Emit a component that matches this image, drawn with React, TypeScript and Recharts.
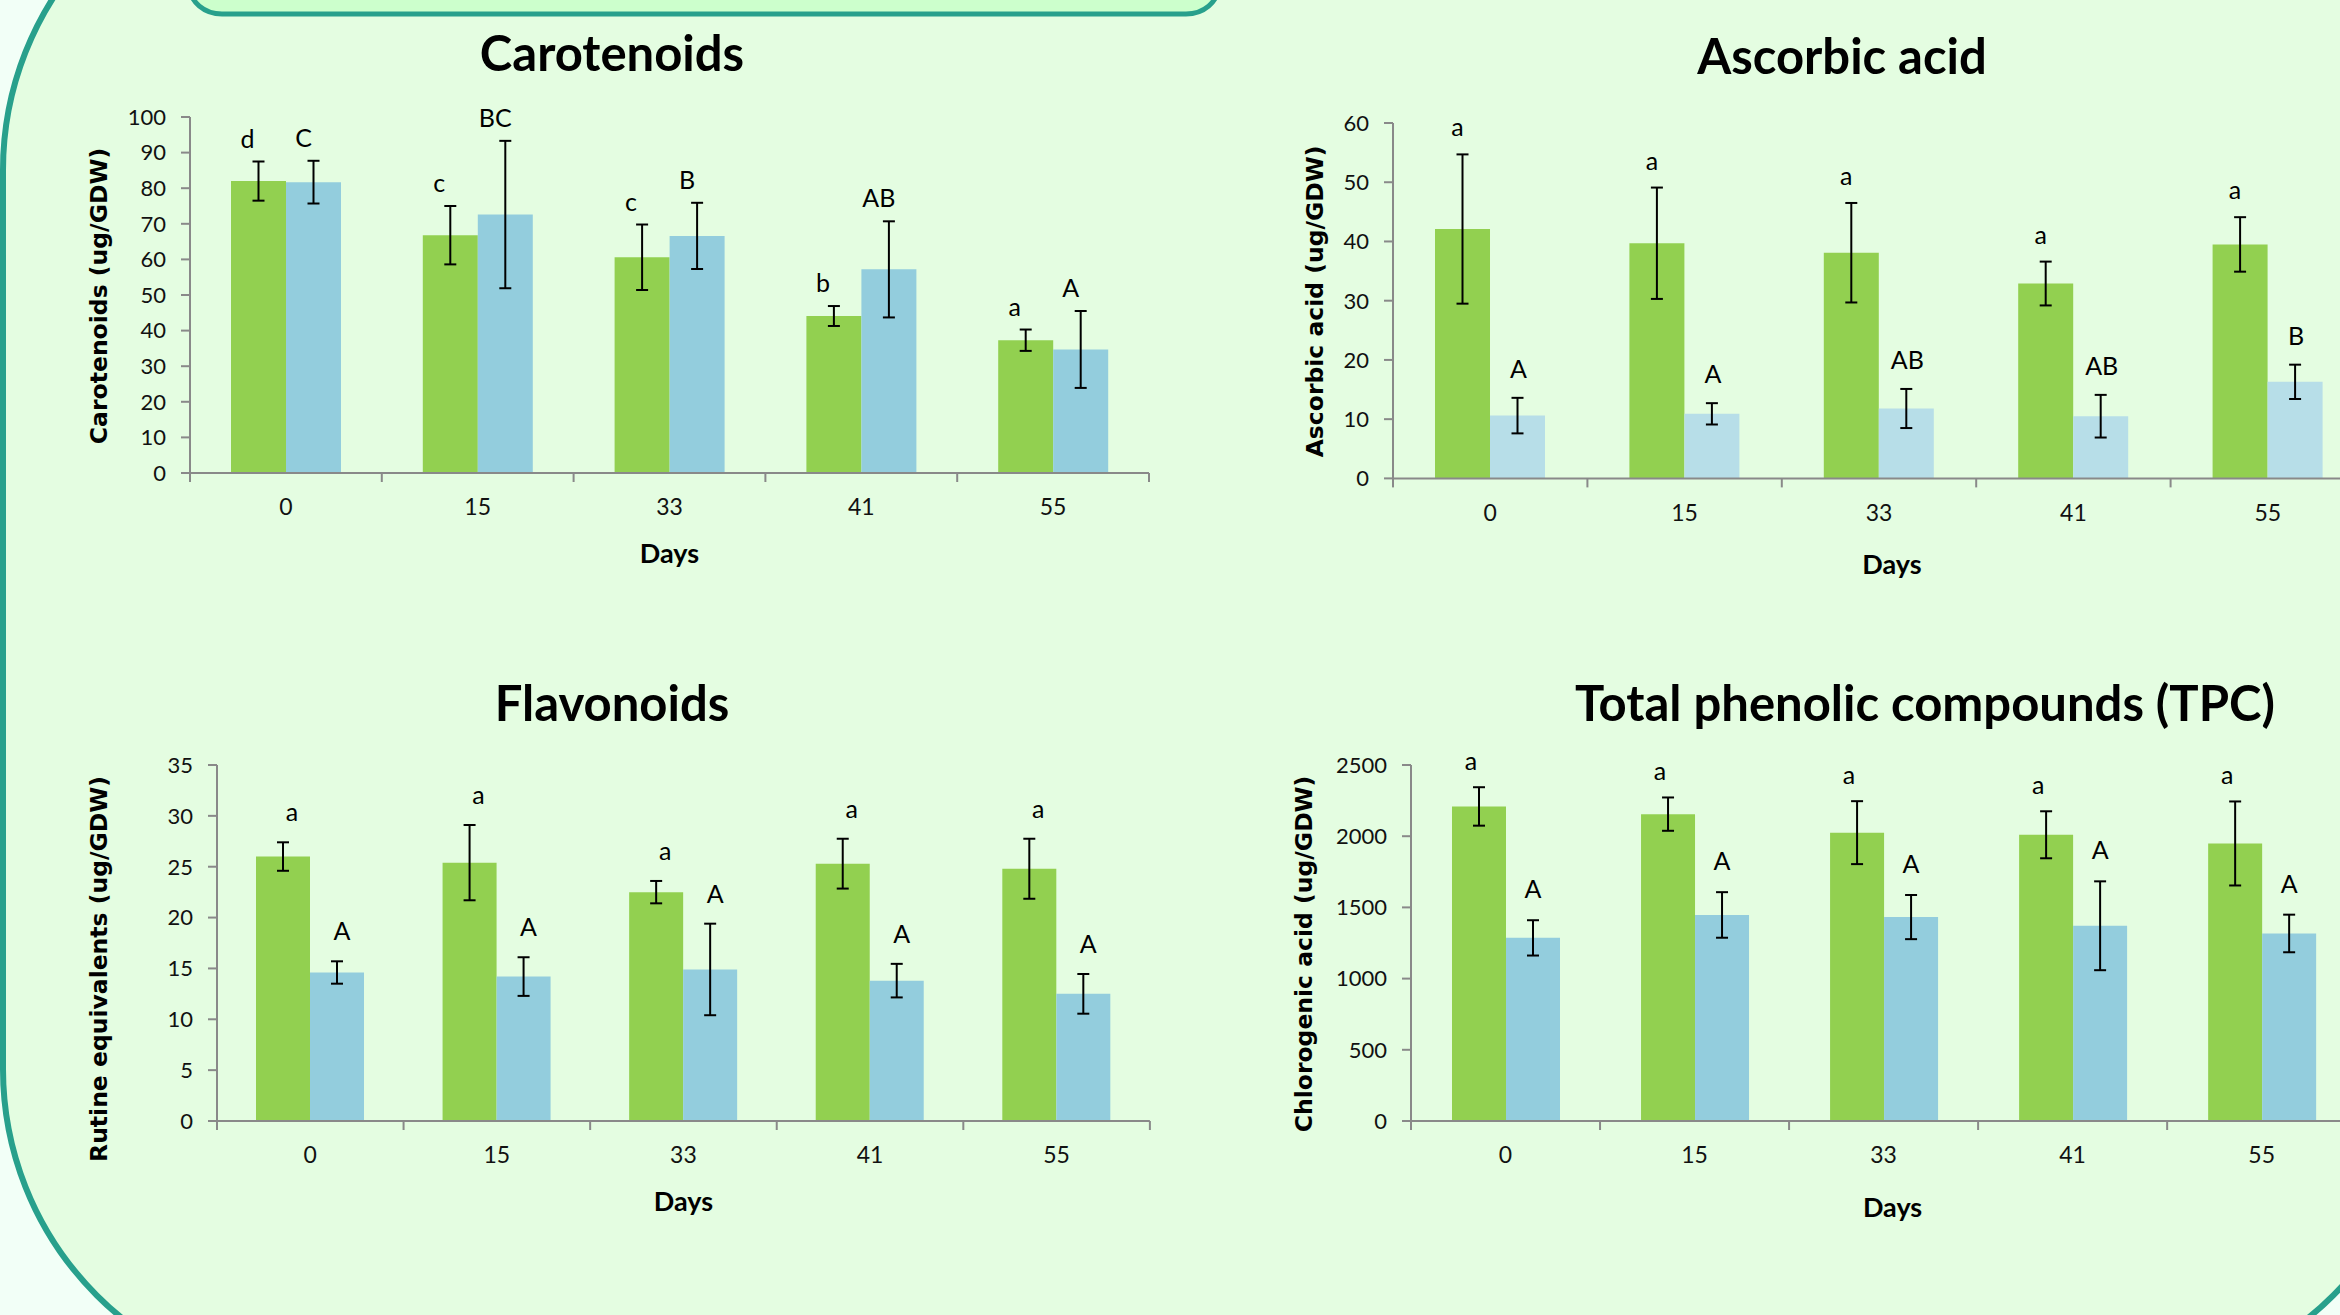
import React from 'react';
import { BarChart, Bar, XAxis, YAxis, ErrorBar, LabelList } from 'recharts';

const days = ['0', '15', '33', '41', '55'];

// Carotenoids (ug/GDW)
const carotGreen = [82.0, 66.8, 60.6, 44.1, 37.3];
const carotGreenErr = [5.5, 8.2, 9.2, 2.8, 3.0];
const carotBlue = [81.7, 72.6, 66.6, 57.2, 34.7];
const carotBlueErr = [6.0, 20.7, 9.3, 13.5, 10.8];
const carotGreenLetters = ['d', 'c', 'c', 'b', 'a'];
const carotBlueLetters = ['C', 'BC', 'B', 'AB', 'A'];

// Ascorbic acid (ug/GDW)
const ascGreen = [42.1, 39.7, 38.1, 32.9, 39.5];
const ascGreenErr = [12.6, 9.4, 8.4, 3.7, 4.6];
const ascBlue = [10.6, 10.9, 11.8, 10.5, 16.3];
const ascBlueErr = [3.0, 1.8, 3.3, 3.6, 2.9];
const ascGreenLetters = ['a', 'a', 'a', 'a', 'a'];
const ascBlueLetters = ['A', 'A', 'AB', 'AB', 'B'];

// Flavonoids, rutine equivalents (ug/GDW)
const flavGreen = [26.0, 25.4, 22.5, 25.3, 24.8];
const flavGreenErr = [1.4, 3.7, 1.1, 2.45, 2.95];
const flavBlue = [14.6, 14.2, 14.9, 13.8, 12.5];
const flavBlueErr = [1.1, 1.9, 4.5, 1.65, 1.95];
const flavGreenLetters = ['a', 'a', 'a', 'a', 'a'];
const flavBlueLetters = ['A', 'A', 'A', 'A', 'A'];

// Total phenolic compounds, chlorogenic acid (ug/GDW)
const tpcGreen = [2209, 2155, 2025, 2010, 1949];
const tpcGreenErr = [135, 117, 221, 165, 295];
const tpcBlue = [1286, 1447, 1432, 1371, 1317];
const tpcBlueErr = [124, 160, 155, 312, 132];
const tpcGreenLetters = ['a', 'a', 'a', 'a', 'a'];
const tpcBlueLetters = ['A', 'A', 'A', 'A', 'A'];

const GREEN = '#92D050';
const BLUE = '#93CDDD';
const LIGHT_BLUE = '#B7DEE8';
const AXIS = '#898989';
const TEAL = '#28A08C';

const build = (g: number[], ge: number[], b: number[], be: number[], gl: string[], bl: string[]) =>
  days.map((day, i) => ({
    day,
    idx: i + 0.5,
    g: g[i],
    gErr: ge[i],
    b: b[i],
    bErr: be[i],
    gL: gl[i],
    bL: bl[i],
  }));

interface Cfg {
  title: string;
  titleX: number;
  titleY: number;
  yLabel: string;
  yLabelX: number;
  yLabelY: number;
  plotLeft: number;
  plotRight: number;
  plotTop: number;
  plotBottom: number;
  yMax: number;
  yStep: number;
  barSize: number;
  blue: string;
  daysDx: number;
  daysDy: number;
  gDx: number;
  bDx: number;
  gGap: number;
  bGap: number;
  data: ReturnType<typeof build>;
}

const charts: Cfg[] = [
  {
    title: 'Carotenoids', titleX: 612, titleY: 52,
    yLabel: 'Carotenoids (ug/GDW)', yLabelX: 99, yLabelY: 296,
    plotLeft: 190, plotRight: 1149, plotTop: 117, plotBottom: 473,
    yMax: 100, yStep: 10, barSize: 55, blue: BLUE,
    daysDx: 0, daysDy: 79, gDx: -11, bDx: -10, gGap: 24, bGap: 24,
    data: build(carotGreen, carotGreenErr, carotBlue, carotBlueErr, carotGreenLetters, carotBlueLetters),
  },
  {
    title: 'Ascorbic acid', titleX: 1842, titleY: 55,
    yLabel: 'Ascorbic acid (ug/GDW)', yLabelX: 1315, yLabelY: 301,
    plotLeft: 1393, plotRight: 2365, plotTop: 122.6, plotBottom: 478,
    yMax: 60, yStep: 10, barSize: 55, blue: LIGHT_BLUE,
    daysDx: 13, daysDy: 85, gDx: -5, bDx: 1, gGap: 28, bGap: 30,
    data: build(ascGreen, ascGreenErr, ascBlue, ascBlueErr, ascGreenLetters, ascBlueLetters),
  },
  {
    title: 'Flavonoids', titleX: 612, titleY: 702,
    yLabel: 'Rutine equivalents (ug/GDW)', yLabelX: 99, yLabelY: 969,
    plotLeft: 216.6, plotRight: 1149.5, plotTop: 765, plotBottom: 1121,
    yMax: 35, yStep: 5, barSize: 54, blue: BLUE,
    daysDx: 0, daysDy: 80, gDx: 9, bDx: 5, gGap: 31, bGap: 31,
    data: build(flavGreen, flavGreenErr, flavBlue, flavBlueErr, flavGreenLetters, flavBlueLetters),
  },
  {
    title: 'Total phenolic compounds (TPC)', titleX: 1925, titleY: 702,
    yLabel: 'Chlorogenic acid (ug/GDW)', yLabelX: 1304, yLabelY: 954,
    plotLeft: 1410.8, plotRight: 2356, plotTop: 765, plotBottom: 1121,
    yMax: 2500, yStep: 500, barSize: 54, blue: BLUE,
    daysDx: 9, daysDy: 86, gDx: -8, bDx: 0, gGap: 27, bGap: 32,
    data: build(tpcGreen, tpcGreenErr, tpcBlue, tpcBlueErr, tpcGreenLetters, tpcBlueLetters),
  },
];

const Y_AXIS_W = 150;
const M_TOP = 20;
const M_RIGHT = 10;
const EDGE_H = 1;
const CAT_H = 110;

const letterContent = (dx: number, gap: number) => (p: any) => {
  const cx = Number(p.x) + Number(p.width) / 2 + dx;
  const cy = Number(p.y) - gap;
  return (
    <text x={cx} y={cy} textAnchor="middle" dominantBaseline="central"
      fontFamily="Lato" fontSize={25} fill="#000">
      {p.value}
    </text>
  );
};

const Panel: React.FC<{ cfg: Cfg }> = ({ cfg }) => {
  const plotW = cfg.plotRight - cfg.plotLeft;
  const plotH = cfg.plotBottom - cfg.plotTop;
  const left = cfg.plotLeft - Y_AXIS_W;
  const top = cfg.plotTop - M_TOP;
  const width = Y_AXIS_W + plotW + M_RIGHT;
  const height = M_TOP + plotH + EDGE_H + CAT_H;
  const yTicks: number[] = [];
  for (let v = 0; v <= cfg.yMax; v += cfg.yStep) yTicks.push(v);
  const edgeTicks = days.map((_, i) => i).concat([days.length]);

  return (
    <>
      <div style={{
        position: 'absolute', left: cfg.titleX, top: cfg.titleY,
        transform: 'translate(-50%, -50%)', whiteSpace: 'nowrap',
        fontFamily: 'Lato', fontWeight: 700, fontSize: 49, lineHeight: 1, color: '#000',
      }}>
        {cfg.title}
      </div>
      <div style={{ position: 'absolute', left, top }}>
        <BarChart width={width} height={height} data={cfg.data} barSize={cfg.barSize} barGap={0}
          margin={{ top: M_TOP, right: M_RIGHT, bottom: 0, left: 0 }}>
          {/* boundary ticks between day groups, like the Excel axis */}
          <XAxis xAxisId={0} type="number" dataKey="idx" domain={[0, days.length]}
            ticks={edgeTicks} allowDataOverflow tick={() => <g />} height={EDGE_H} tickSize={9}
            axisLine={{ stroke: AXIS, strokeWidth: 2 }} tickLine={{ stroke: AXIS, strokeWidth: 2 }} />
          <XAxis xAxisId="cat" dataKey="day" height={CAT_H} interval={0} axisLine={false} tickLine={false}
            tickSize={0} tickMargin={25}
            tick={{ fontFamily: 'Lato', fontSize: 23, fill: '#111' }}
            label={{
              content: () => {
                const x = cfg.plotLeft - left + plotW / 2 + cfg.daysDx;
                const y = M_TOP + plotH + cfg.daysDy;
                return (
                  <text x={x} y={y} textAnchor="middle" dominantBaseline="central"
                    fontFamily="Lato" fontWeight={700} fontSize={27} fill="#000">Days</text>
                );
              },
            }} />
          <YAxis width={Y_AXIS_W} domain={[0, cfg.yMax]} ticks={yTicks} interval={0}
            tickSize={9} tickMargin={15}
            axisLine={{ stroke: AXIS, strokeWidth: 2 }} tickLine={{ stroke: AXIS, strokeWidth: 2 }}
            tick={{ fontFamily: 'Lato', fontSize: 22, fill: '#111' }}
            label={{
              content: () => {
                const x = cfg.yLabelX - left;
                const y = cfg.yLabelY - top;
                return (
                  <text x={x} y={y} transform={`rotate(-90 ${x} ${y})`} textAnchor="middle"
                    dominantBaseline="central" fontFamily="DejaVu Sans" fontWeight={700}
                    fontSize={23.5} fill="#000">{cfg.yLabel}</text>
                );
              },
            }} />
          <Bar xAxisId="cat" dataKey="g" stackId="g" fill={GREEN} isAnimationActive={false}>
            <ErrorBar dataKey="gErr" width={6} stroke="#000" strokeWidth={2} />
          </Bar>
          <Bar xAxisId="cat" dataKey="gErr" stackId="g" fill="transparent" isAnimationActive={false}>
            <LabelList dataKey="gL" content={letterContent(cfg.gDx, cfg.gGap)} />
          </Bar>
          <Bar xAxisId="cat" dataKey="b" stackId="b" fill={cfg.blue} isAnimationActive={false}>
            <ErrorBar dataKey="bErr" width={6} stroke="#000" strokeWidth={2} />
          </Bar>
          <Bar xAxisId="cat" dataKey="bErr" stackId="b" fill="transparent" isAnimationActive={false}>
            <LabelList dataKey="bL" content={letterContent(cfg.bDx, cfg.bGap)} />
          </Bar>
        </BarChart>
      </div>
    </>
  );
};

export default function App() {
  return (
    <div style={{ position: 'absolute', left: 0, top: 0, width: 2340, height: 1315, overflow: 'hidden', background: '#F2FFF7' }}>
      <svg width={2340} height={1315} style={{ position: 'absolute', left: 0, top: 0 }}>
        <rect x={3} y={-150} width={2424} height={1539} rx={320} fill="#E4FDE1" stroke={TEAL} strokeWidth={6} />
        <rect x={190} y={-40} width={1028} height={54} rx={32} fill="#CCFFCC" stroke={TEAL} strokeWidth={5} />
      </svg>
      {charts.map((c) => (
        <Panel key={c.title} cfg={c} />
      ))}
    </div>
  );
}
